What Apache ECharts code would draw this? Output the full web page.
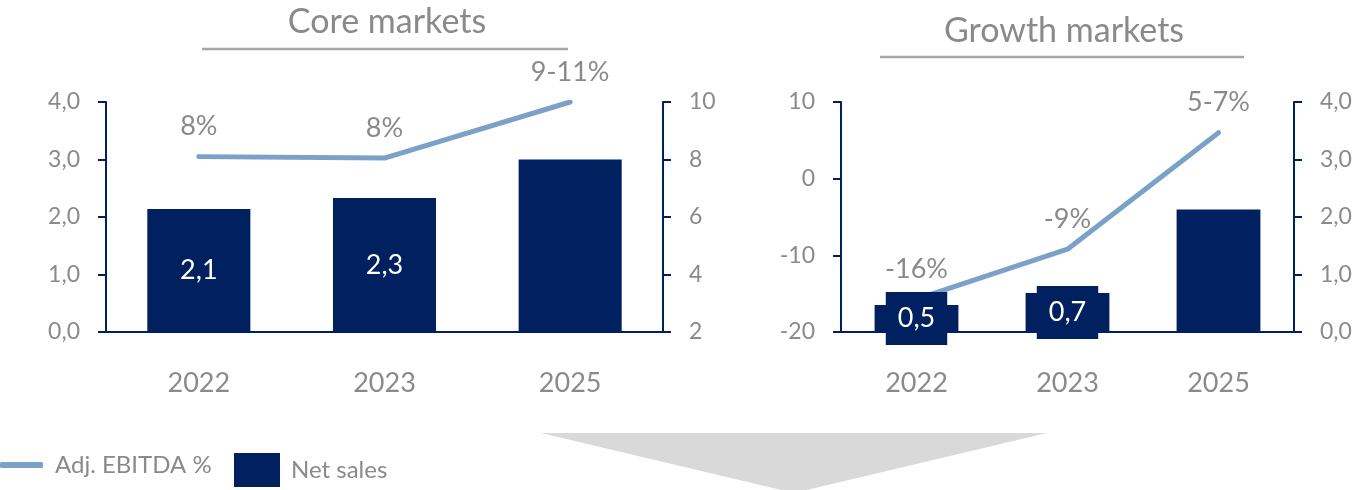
<!DOCTYPE html>
<html>
<head>
<meta charset="utf-8">
<script src="https://cdn.jsdelivr.net/npm/echarts@6/dist/echarts.min.js"></script>
<style>
  html, body { margin: 0; padding: 0; background: #ffffff; }
  #chart { width: 1360px; height: 490px; }
</style>
</head>
<body>
<div id="chart"></div>
<script>
// Years shown on both panels
const years = ['2022', '2023', '2025'];

// Core markets: net sales (left axis) and adjusted EBITDA margin (right axis)
const coreSales = [2.14, 2.33, 3.0];
const coreEbitda = [8.1, 8.05, 10];
const coreEbitdaLabels = ['8%', '8%', '9-11%'];

// Growth markets: adjusted EBITDA margin (left axis) and net sales (right axis)
const growthSales = [0.47, 0.68, 2.13];
const growthEbitda = [-15.7, -9.2, 6.0];
const growthEbitdaLabels = ['-16%', '-9%', '5-7%'];

// Which sales bars carry a value label
const salesLabelShown = [true, true, false];

// Axis ranges
const salesAxis = { min: 0, max: 4, interval: 1 };
const coreMarginAxis = { min: 2, max: 10, interval: 2 };
const growthMarginAxis = { min: -20, max: 10, interval: 10 };

const NAVY = '#002060';
const LINE = '#7ba1c8';
const GREY_TEXT = '#8a8a8a';
const FONT = 'Lato';

const comma1 = v => v.toFixed(1).replace('.', ',');

function yAxisBase(range, pos, grid, fmt) {
  return {
    type: 'value', gridIndex: grid, position: pos,
    min: range.min, max: range.max, interval: range.interval,
    splitLine: { show: false },
    axisLine: { show: true, lineStyle: { color: NAVY, width: 2 } },
    axisTick: { show: true, inside: false, length: 8, lineStyle: { color: NAVY, width: 2 } },
    axisLabel: { color: GREY_TEXT, fontSize: 23, fontFamily: FONT, margin: 26, formatter: fmt }
  };
}

function xAxisBase(grid) {
  return {
    type: 'category', gridIndex: grid, data: years,
    axisLine: { show: true, onZero: false, lineStyle: { color: NAVY, width: 2 } },
    axisTick: { show: false },
    axisLabel: { color: GREY_TEXT, fontSize: 27, fontFamily: FONT, margin: 38 }
  };
}

function salesSeries(values, xi, yi) {
  return {
    name: 'Net sales', type: 'bar', xAxisIndex: xi, yAxisIndex: yi, z: 3,
    barWidth: '55.5%',
    itemStyle: { color: NAVY },
    label: {
      show: true, position: 'inside', color: '#ffffff', fontSize: 27, fontFamily: FONT,
      backgroundColor: NAVY, padding: [13, 12],
      formatter: p => salesLabelShown[p.dataIndex] ? comma1(p.value) : ''
    },
    data: values.map((v, i) => ({
      value: v,
      label: { show: salesLabelShown[i] }
    }))
  };
}

function marginSeries(values, labels, xi, yi) {
  return {
    name: 'Adj. EBITDA %', type: 'line', xAxisIndex: xi, yAxisIndex: yi, z: 2,
    symbol: 'circle', symbolSize: 1,
    itemStyle: { color: LINE },
    lineStyle: { color: LINE, width: 5, cap: 'round', join: 'round' },
    label: {
      show: true, position: 'top', distance: 16, color: GREY_TEXT, fontSize: 27, fontFamily: FONT,
      formatter: p => labels[p.dataIndex]
    },
    data: values
  };
}

const chart = echarts.init(document.getElementById('chart'), null, { renderer: 'canvas' });

chart.setOption({
  animation: false,
  backgroundColor: '#ffffff',
  textStyle: { fontFamily: FONT },
  title: [
    { text: 'Core markets', left: 382, top: 0, textAlign: 'center',
      textStyle: { color: GREY_TEXT, fontSize: 34, fontWeight: 'normal', fontFamily: FONT } },
    { text: 'Growth markets', left: 1059, top: 9, textAlign: 'center',
      textStyle: { color: GREY_TEXT, fontSize: 34, fontWeight: 'normal', fontFamily: FONT } }
  ],
  legend: [
    { data: [{ name: 'Adj. EBITDA %', icon: 'roundRect' }], left: -5, top: 448,
      itemWidth: 43, itemHeight: 6,
      itemStyle: { color: LINE },
      textStyle: { color: GREY_TEXT, fontSize: 24, fontFamily: FONT, padding: [0, 0, 0, 7] } },
    { data: [{ name: 'Net sales', icon: 'rect' }], left: 229, top: 448, itemWidth: 46, itemHeight: 34,
      textStyle: { color: GREY_TEXT, fontSize: 24, fontFamily: FONT, padding: [0, 0, 0, 6] } }
  ],
  grid: [
    { left: 106, right: 697, top: 102, bottom: 158 },
    { left: 841, right: 66, top: 102, bottom: 158 }
  ],
  xAxis: [xAxisBase(0), xAxisBase(1)],
  yAxis: [
    yAxisBase(salesAxis, 'left', 0, v => comma1(v)),
    yAxisBase(coreMarginAxis, 'right', 0, v => String(v)),
    yAxisBase(growthMarginAxis, 'left', 1, v => String(v)),
    yAxisBase(salesAxis, 'right', 1, v => comma1(v))
  ],
  series: [
    salesSeries(coreSales, 0, 0),
    marginSeries(coreEbitda, coreEbitdaLabels, 0, 1),
    salesSeries(growthSales, 1, 3),
    marginSeries(growthEbitda, growthEbitdaLabels, 1, 2)
  ],
  graphic: [
    // rules under the panel headings
    { type: 'line', shape: { x1: 202, y1: 49, x2: 568, y2: 49 },
      style: { stroke: '#a6a6a6', lineWidth: 2.5 } },
    { type: 'line', shape: { x1: 880, y1: 57, x2: 1244, y2: 57 },
      style: { stroke: '#a6a6a6', lineWidth: 2.5 } },
    // downward arrow below the panels
    { type: 'polygon', shape: { points: [[541, 433], [1047, 433], [794, 493]] },
      style: { fill: '#d9d9d9' }, z: -1 }
  ]
});
</script>
</body>
</html>
